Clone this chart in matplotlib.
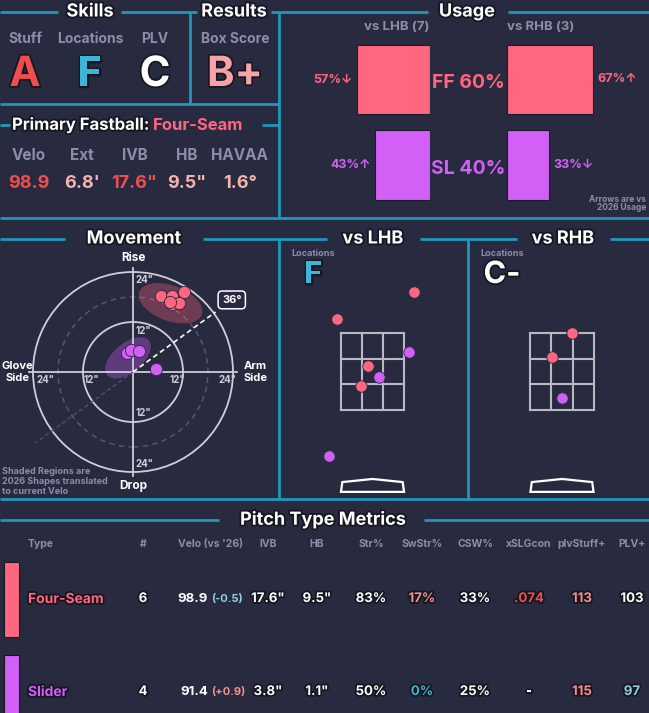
import numpy as np
import matplotlib.pyplot as plt
from matplotlib.patches import Circle, Ellipse, Rectangle, Polygon
import matplotlib.patheffects as pe

plt.rcParams['font.family'] = ['Inter', 'DejaVu Sans']
plt.rcParams['font.weight'] = 'bold'

W, H = 649, 713
BG = '#282a3f'
LINE = '#1e98bc'
FF = '#ff6680'
SL = '#d260f7'
GRAY = '#8a8ea8'
RED = '#f04e4e'
TEAL = '#3db5d8'
PEACH = '#f5b3ad'
SALMON = '#f4918c'
LTEAL = '#8fd0e0'
CIRC = '#cfcfd8'

# ---- data ----
grade_labels = ['Stuff', 'Locations', 'PLV']
grades = ['A', 'F', 'C']
grade_colors = [RED, TEAL, 'white']
box_score = 'B+'

fb_labels = ['Velo', 'Ext', 'IVB', 'HB', 'HAVAA']
fb_values = ['98.9', "6.8'", '17.6"', '9.5"', '1.6°']
fb_colors = [RED, PEACH, RED, PEACH, PEACH]

pitch_types = ['FF', 'SL']
usage_total = [60, 40]
usage_lhb = [57, 43]
usage_rhb = [67, 33]
arrow_lhb = ['↓', '↑']
arrow_rhb = ['↑', '↓']
n_lhb, n_rhb = 7, 3

# movement in inches (HB arm side +, IVB)
ff_hb = [6.7, 9.3, 12.2, 9.3, 11.1, 8.8]
ff_ivb = [18.3, 18.3, 19.3, 16.3, 16.6, 16.9]
sl_hb = [-1.5, -0.5, 1.4, 5.5]
sl_ivb = [4.6, 5.3, 5.0, 0.7]
arm_angle = 36
# 2026 shapes: center hb, center ivb, width, height, angle
ff_shape = (9.0, 16.5, 16.0, 8.5, -20)
sl_shape = (-1.2, 3.4, 13.0, 7.0, 40)

# locations in feet
lhb_ff_x = [0.93, -0.80, -0.11, -0.26]
lhb_ff_z = [4.26, 3.64, 2.60, 2.15]
lhb_sl_x = [0.83, 0.14, -0.98]
lhb_sl_z = [2.90, 2.34, 0.57]
rhb_ff_x = [0.22, -0.23]
rhb_ff_z = [3.34, 2.78]
rhb_sl_x = [-0.01]
rhb_sl_z = [1.86]
loc_grades = ['F', 'C-']
loc_grade_colors = [TEAL, 'white']
sz_bot, sz_top = 1.6, 3.33

# pitch type table
columns = ['Type', '#', "Velo (vs '26)", 'IVB', 'HB', 'Str%', 'SwStr%',
           'CSW%', 'xSLGcon', 'plvStuff+', 'PLV+']
pitch_names = ['Four-Seam', 'Slider']
counts = ['6', '4']
velo = ['98.9', '91.4']
velo_diff = ['(-0.5)', '(+0.9)']
velo_diff_colors = [LTEAL, SALMON]
ivb = ['17.6"', '3.8"']
hb = ['9.5"', '1.1"']
strike = ['83%', '50%']
swstr = ['17%', '0%']
swstr_colors = [SALMON, TEAL]
csw = ['33%', '25%']
xslg = ['.074', '-']
xslg_colors = [RED, 'white']
plv_stuff = ['113', '115']
plv_stuff_colors = [SALMON, SALMON]
plv = ['103', '97']
plv_colors = ['white', LTEAL]

pcolors = [FF, SL]

fig = plt.figure(figsize=(W / 100, H / 100), dpi=100, facecolor=BG)
ov = fig.add_axes([0, 0, 1, 1])
ov.set_xlim(0, W)
ov.set_ylim(H, 0)
ov.axis('off')
ov.set_zorder(0)

stroke = [pe.withStroke(linewidth=2.5, foreground='#15161f')]


def px_axes(x0, y0, x1, y1):
    a = fig.add_axes([x0 / W, 1 - y1 / H, (x1 - x0) / W, (y1 - y0) / H])
    a.set_facecolor('none')
    a.axis('off')
    return a


def hline(y, x0, x1):
    ov.plot([x0, x1], [y, y], color=LINE, lw=2, solid_capstyle='butt')


def vline(x, y0, y1):
    ov.plot([x, x], [y0, y1], color=LINE, lw=2, solid_capstyle='butt')


def title(x, y, s, size=13):
    ov.text(x, y, s, color='white', fontsize=size, fontweight='bold',
            ha='center', va='center', path_effects=stroke)


# ---- frame lines ----
for a, b in [(0, 58), (121, 197), (271, 428), (508, 649)]:
    hline(12, a, b)
vline(190, 12, 104)
vline(279, 12, 218)
hline(104, 0, 279)
hline(125, 0, 10)
hline(125, 262, 279)
hline(218, 0, 649)
for a, b in [(0, 65), (203, 327), (420, 517), (610, 649)]:
    hline(239, a, b)
vline(279, 239, 499)
vline(468, 239, 499)
hline(499, 0, 649)
hline(520, 0, 219)
hline(520, 424, 649)

title(90, 12, 'Skills')
title(234, 12, 'Results')
title(467, 12, 'Usage')
title(134, 239, 'Movement')
title(373, 239, 'vs LHB')
title(563, 239, 'vs RHB')
title(323, 520, 'Pitch Type Metrics')

# ---- skills / results ----
for i, (lab, g, c) in enumerate(zip(grade_labels, grades, grade_colors)):
    x = 25 + 65 * i
    ov.text(x, 39, lab, color=GRAY, fontsize=10, ha='center', va='center')
    ov.text(x, 75, g, color=c, fontsize=30, fontweight='bold', ha='center',
            va='center', path_effects=stroke)
ov.text(235, 39, 'Box Score', color=GRAY, fontsize=10, ha='center', va='center')
ov.text(235, 75, box_score, color='#f5a3a8', fontsize=30, fontweight='bold',
        ha='center', va='center', path_effects=stroke)

# ---- primary fastball ----
ov.text(149, 125, 'Primary Fastball:', color='white', fontsize=12,
        ha='right', va='center', path_effects=stroke)
ov.text(153, 125, 'Four-Seam', color=FF, fontsize=12, ha='left', va='center')
for i, (lab, v, c) in enumerate(zip(fb_labels, fb_values, fb_colors)):
    x = 29 + 52.7 * i
    ov.text(x, 156, lab, color=GRAY, fontsize=11, ha='center', va='center')
    ov.text(x, 184, v, color=c, fontsize=13, ha='center', va='center')

# ---- usage ----
ov.text(397, 27, f'vs LHB ({n_lhb})', color=GRAY, fontsize=9.5, ha='center', va='center')
ov.text(541, 27, f'vs RHB ({n_rhb})', color=GRAY, fontsize=9.5, ha='center', va='center')
scale = 1.28  # px per percent
rows = np.arange(len(pitch_types))
axl = px_axes(280, 36.75, 430, 207.75)
axl.barh(rows, usage_lhb, height=0.81, color=pcolors, edgecolor='#1a1b28', lw=0.8)
axl.set_xlim(150 / scale, 0)
axl.set_ylim(1.5, -0.5)
for r, v, a, c in zip(rows, usage_lhb, arrow_lhb, pcolors):
    axl.text(v + 3.5, r, f'{v}%{a}', color=c, fontsize=9, ha='right', va='center')
axr = px_axes(507, 36.75, 649, 207.75)
axr.barh(rows, usage_rhb, height=0.81, color=pcolors, edgecolor='#1a1b28', lw=0.8)
axr.set_xlim(0, 142 / scale)
axr.set_ylim(1.5, -0.5)
for r, v, a, c in zip(rows, usage_rhb, arrow_rhb, pcolors):
    axr.text(v + 3.5, r, f'{v}%{a}', color=c, fontsize=9, ha='left', va='center')
for r, p, v, c in zip(rows, pitch_types, usage_total, pcolors):
    ov.text(468, 83 + 86 * r, f'{p} {v}%', color=c, fontsize=14, ha='center', va='center')
ov.text(646, 199, 'Arrows are vs', color=GRAY, fontsize=6, ha='right', va='center')
ov.text(646, 208, '2026 Usage', color=GRAY, fontsize=6, ha='right', va='center')

# ---- movement ----
k = 100 / 24  # px per inch
cx, cy = 133, 372
axm = px_axes(0, 240, 278, 498)
axm.set_xlim(-cx / k, (278 - cx) / k)
axm.set_ylim((cy - 498) / k, (cy - 240) / k)
for r in (12, 24):
    axm.add_patch(Circle((0, 0), r, fill=False, ec=CIRC, lw=1.3))
axm.add_patch(Circle((0, 0), 18, fill=False, ec='#575b75', lw=1, ls=(0, (4, 3))))
axm.plot([-25, 25], [0, 0], color=CIRC, lw=1.3)
axm.plot([0, 0], [-25, 25], color=CIRC, lw=1.3)
for (x, y, w, h, ang), c in zip([ff_shape, sl_shape], pcolors):
    axm.add_patch(Ellipse((x, y), w, h, angle=ang, fc=c, ec='none', alpha=0.33))
t = np.deg2rad(arm_angle)
axm.plot([0, 24.5 * np.cos(t)], [0, 24.5 * np.sin(t)], color='white', lw=1.2, ls=(0, (3, 2)))
axm.plot([0, -29 * np.cos(t)], [0, -29 * np.sin(t)], color='#4e526b', lw=1, ls=(0, (3, 2)))
axm.text(23.7, 17.3, f'{arm_angle}°', color='white', fontsize=8, ha='center', va='center',
         bbox=dict(boxstyle='round,pad=0.35', fc=BG, ec='white', lw=1.1))
axm.scatter(ff_hb, ff_ivb, s=78, color=FF, ec=BG, lw=0.6, zorder=5)
axm.scatter(sl_hb, sl_ivb, s=78, color=SL, ec=BG, lw=0.6, zorder=5)
for v in (9.8, 22):
    axm.text(0.7, v, '12"' if v < 15 else '24"', color=CIRC, fontsize=7, ha='left', va='center')
    axm.text(0.7, -v, '12"' if v < 15 else '24"', color=CIRC, fontsize=7, ha='left', va='center')
for x, s in [(-20.9, '24"'), (-10.1, '12"'), (10.6, '12"'), (22.6, '24"')]:
    axm.text(x, -2.0, s, color=CIRC, fontsize=7, ha='center', va='center')
axm.text(0, 27.4, 'Rise', color='white', fontsize=8.5, ha='center', va='center')
axm.text(0, -27.4, 'Drop', color='white', fontsize=8.5, ha='center', va='center')
axm.text(-31.6, 0, 'Glove\nSide', color='white', fontsize=8, ha='left', va='center',
         multialignment='center', linespacing=1.2)
axm.text(29.3, 0, 'Arm\nSide', color='white', fontsize=8, ha='center', va='center',
         linespacing=1.2)
for i, s in enumerate(['Shaded Regions are', '2026 Shapes translated', 'to current Velo']):
    ov.text(2, 471 + 10 * i, s, color=GRAY, fontsize=6.5, ha='left', va='center')

# ---- locations ----
kz = 44.5  # px per foot
panels = [
    (280, 467, 372.5, lhb_ff_x, lhb_ff_z, lhb_sl_x, lhb_sl_z),
    (469, 649, 562.0, rhb_ff_x, rhb_ff_z, rhb_sl_x, rhb_sl_z),
]
zb_px = 410
for (x0, x1, zc, fx, fz, sx, sz), g, gc in zip(panels, loc_grades, loc_grade_colors):
    ax = px_axes(x0, 240, x1, 498)
    ax.set_xlim((x0 - zc) / kz, (x1 - zc) / kz)
    ax.set_ylim(sz_bot + (zb_px - 498) / kz, sz_bot + (zb_px - 240) / kz)
    hw = 17 / 24
    xs = np.linspace(-hw, hw, 4)
    zs = np.linspace(sz_bot, sz_top, 4)
    for x in xs:
        ax.plot([x, x], [sz_bot, sz_top], color='#b9b9c4', lw=1.5)
    for z in zs:
        ax.plot([-hw, hw], [z, z], color='#b9b9c4', lw=1.5)
    ax.add_patch(Polygon([(-hw, -0.24), (hw, -0.24), (hw - 0.03, -0.02), (0, 0.05),
                          (-hw + 0.03, -0.02)], closed=True, fill=False, ec='white', lw=1.6))
    ax.scatter(fx, fz, s=68, color=FF, ec=BG, lw=0.6, zorder=5)
    ax.scatter(sx, sz, s=68, color=SL, ec=BG, lw=0.6, zorder=5)
    lx = x0 + 33
    ov.text(lx, 253, 'Locations', color=GRAY, fontsize=6.5, ha='center', va='center')
    ov.text(lx, 275, g, color=gc, fontsize=22, ha='center', va='center', path_effects=stroke)

# ---- table ----
col_x = [28, 143, 211, 268, 317, 371, 422, 475, 529, 582, 632]
for j, (c, x) in enumerate(zip(columns, col_x)):
    ov.text(x, 544, c, color=GRAY, fontsize=7.5, ha='left' if j == 0 else 'center', va='center')
row_y = [599, 692]
for i, y in enumerate(row_y):
    ov.add_patch(Rectangle((4, y - 37), 15, 75, fc=pcolors[i], ec='#15161f', lw=0.8))
    ov.text(28, y, pitch_names[i], color=pcolors[i], fontsize=10, ha='left', va='center',
            path_effects=stroke)
    ov.text(208, y, velo[i], color='white', fontsize=9.5, ha='right', va='center')
    ov.text(211, y, velo_diff[i], color=velo_diff_colors[i], fontsize=8, ha='left', va='center')
    cells = [(counts[i], 'white'), None, (ivb[i], 'white'), (hb[i], 'white'),
             (strike[i], 'white'), (swstr[i], swstr_colors[i]), (csw[i], 'white'),
             (xslg[i], xslg_colors[i]), (plv_stuff[i], plv_stuff_colors[i]),
             (plv[i], plv_colors[i])]
    for cell, x in zip(cells, col_x[1:]):
        if cell is None:
            continue
        ov.text(x, y, cell[0], color=cell[1], fontsize=9.5, ha='center', va='center',
                path_effects=stroke)

fig.savefig('out.png', dpi=100, facecolor=BG)
